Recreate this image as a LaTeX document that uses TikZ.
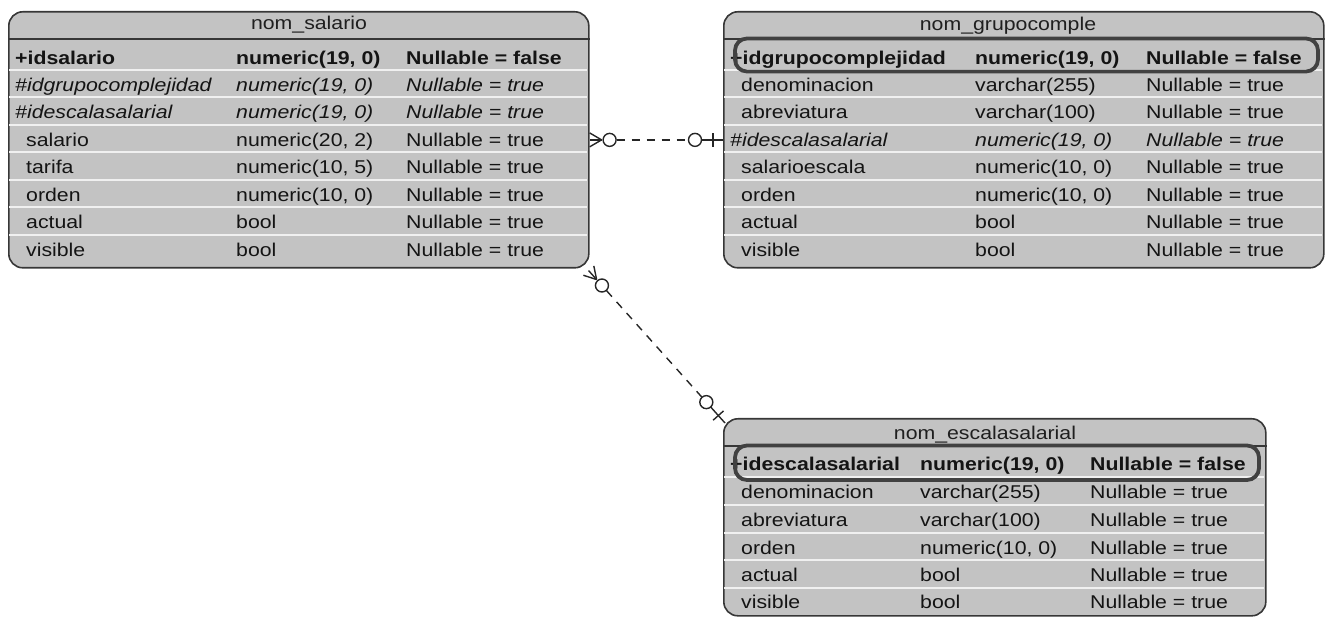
\documentclass[tikz,border=0pt]{standalone}
\usepackage{fontspec}
\setmainfont{Liberation Sans}[FakeStretch=1.15]
\usetikzlibrary{calc}
\definecolor{tablegray}{RGB}{195,195,195}
\definecolor{tableedge}{RGB}{55,55,55}
\newcommand{\cellfont}{\fontsize{18.5}{22}\selectfont}
% crow's foot and circle at #1, line going to #2
\newcommand{\manyend}[2]{%
	\draw [relline] ($(#1)!12pt!(#2)$) -- (#1);
	\draw [relline] ($(#1)!12pt!(#2)$) -- ($(#1)!7pt!90:(#2)$);
	\draw [relline] ($(#1)!12pt!(#2)$) -- ($(#1)!7pt!-90:(#2)$);
	\draw [relline] ($(#1)!20pt!(#2)$) circle [radius=6.5pt];
}
% bar and circle at #1, line going to #2
\newcommand{\oneend}[2]{%
	\draw [relline] (#1) -- ($(#1)!21.5pt!(#2)$);
	\coordinate (#1-bar) at ($(#1)!10pt!(#2)$);
	\draw [relline] ($(#1-bar)!7pt!90:(#2)$) -- ($(#1-bar)!7pt!-90:(#2)$);
	\draw [relline] ($(#1)!28pt!(#2)$) circle [radius=6.5pt];
}
\tikzset{
	tablebox/.style={draw=tableedge, line width=1.6pt, fill=tablegray, rounded corners=14pt, anchor=north west, inner sep=0pt},
	headline/.style={draw=tableedge, line width=1.4pt},
	rowsep/.style={draw=white!94!black, line width=2pt},
	keybox/.style={draw=tableedge!95!white, line width=3.8pt, rounded corners=12pt},
	title/.style={anchor=base, inner sep=0pt, font=\cellfont, text=black!88},
	cell/.style={anchor=base west, inner sep=0pt, font=\cellfont, text=black!92},
	pk/.style={font=\cellfont\bfseries},
	fk/.style={font=\cellfont\itshape},
	rm/.style={},
	relline/.style={draw=black!85, line width=1.4pt},
}
\begin{document}
\begin{tikzpicture}[x=1pt, y=-1pt]
	\useasboundingbox (0,0) rectangle (1331,617);

	% nom_salario
	\node [tablebox, minimum width=580pt, minimum height=256pt] (salario) at (8,11) {};
	\foreach \ys in {70,97.5,125,152.5,180,207.5,235}
		\draw [rowsep] (9,\ys) -- (587,\ys);
	\draw [headline] (salario.west |- 0,39) -- (salario.east |- 0,39);
	\node [title] (salario-title) at (309,30) {nom\_salario};
	\foreach \yb/\xa/\s/\a/\b/\c [count=\i] in {
		64.5/15/pk/{+idsalario}/{numeric(19, 0)}/{Nullable = false},
		91.5/15/fk/{\#idgrupocomplejidad}/{numeric(19, 0)}/{Nullable = true},
		119/15/fk/{\#idescalasalarial}/{numeric(19, 0)}/{Nullable = true},
		146.5/26/rm/{salario}/{numeric(20, 2)}/{Nullable = true},
		174/26/rm/{tarifa}/{numeric(10, 5)}/{Nullable = true},
		201.5/26/rm/{orden}/{numeric(10, 0)}/{Nullable = true},
		229/26/rm/{actual}/{bool}/{Nullable = true},
		257/26/rm/{visible}/{bool}/{Nullable = true}}{
		\node [cell, \s] (sal-\i-a) at (\xa,\yb) {\a};
		\node [cell, \s] (sal-\i-b) at (236,\yb) {\b};
		\node [cell, \s] (sal-\i-c) at (406,\yb) {\c};
	}

	% nom_grupocomple
	\node [tablebox, minimum width=600pt, minimum height=256pt] (grupo) at (723,11) {};
	\foreach \ys in {70,97.5,125,152.5,180,207.5,235}
		\draw [rowsep] (724,\ys) -- (1322,\ys);
	\draw [headline] (grupo.west |- 0,39) -- (grupo.east |- 0,39);
	\node [title] (grupo-title) at (1008,31) {nom\_grupocomple};
	\foreach \yb/\xa/\s/\a/\b/\c [count=\i] in {
		64.5/730/pk/{+idgrupocomplejidad}/{numeric(19, 0)}/{Nullable = false},
		91.5/741/rm/{denominacion}/{varchar(255)}/{Nullable = true},
		119/741/rm/{abreviatura}/{varchar(100)}/{Nullable = true},
		146.5/730/fk/{\#idescalasalarial}/{numeric(19, 0)}/{Nullable = true},
		174/741/rm/{salarioescala}/{numeric(10, 0)}/{Nullable = true},
		201.5/741/rm/{orden}/{numeric(10, 0)}/{Nullable = true},
		229/741/rm/{actual}/{bool}/{Nullable = true},
		257/741/rm/{visible}/{bool}/{Nullable = true}}{
		\node [cell, \s] (gru-\i-a) at (\xa,\yb) {\a};
		\node [cell, \s] (gru-\i-b) at (975,\yb) {\b};
		\node [cell, \s] (gru-\i-c) at (1146,\yb) {\c};
	}
	\draw [keybox] (735,38.5) rectangle (1318,71.5);

	% nom_escalasalarial
	\node [tablebox, minimum width=542pt, minimum height=197pt] (escala) at (723,418) {};
	\foreach \ys in {477,505,532.5,560,588}
		\draw [rowsep] (724,\ys) -- (1264,\ys);
	\draw [headline] (escala.west |- 0,446) -- (escala.east |- 0,446);
	\node [title] (escala-title) at (985,439) {nom\_escalasalarial};
	\foreach \yb/\xa/\s/\a/\b/\c [count=\i] in {
		470.5/730/pk/{+idescalasalarial}/{numeric(19, 0)}/{Nullable = false},
		498.5/741/rm/{denominacion}/{varchar(255)}/{Nullable = true},
		526/741/rm/{abreviatura}/{varchar(100)}/{Nullable = true},
		554/741/rm/{orden}/{numeric(10, 0)}/{Nullable = true},
		581.5/741/rm/{actual}/{bool}/{Nullable = true},
		608.5/741/rm/{visible}/{bool}/{Nullable = true}}{
		\node [cell, \s] (esc-\i-a) at (\xa,\yb) {\a};
		\node [cell, \s] (esc-\i-b) at (920,\yb) {\b};
		\node [cell, \s] (esc-\i-c) at (1090,\yb) {\c};
	}
	\draw [keybox] (735,445.5) rectangle (1259,480);

	% relations
	\coordinate (salario-r) at (salario.east |- sal-4-a.center);
	\coordinate (grupo-l) at (grupo.west |- salario-r);
	\manyend{salario-r}{grupo-l}
	\oneend{grupo-l}{salario-r}
	\draw [relline, dash pattern=on 8pt off 7pt] ($(salario-r)!27pt!(grupo-l)$) -- ($(grupo-l)!35pt!(salario-r)$);

	\coordinate (salario-c) at ($(salario.south east)+(-1,2)$);
	\coordinate (escala-c) at ($(escala.north west)+(2,5)$);
	\manyend{salario-c}{escala-c}
	\oneend{escala-c}{salario-c}
	\draw [relline, dash pattern=on 8pt off 7pt] ($(salario-c)!27pt!(escala-c)$) -- ($(escala-c)!35pt!(salario-c)$);
\end{tikzpicture}
\end{document}
